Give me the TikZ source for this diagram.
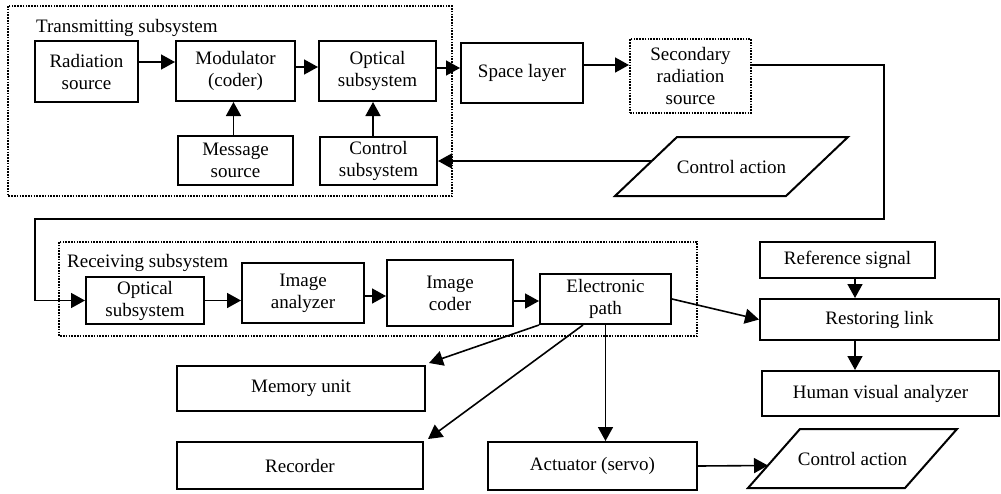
\documentclass[tikz,border=0pt]{standalone}
\usepackage{fontspec}
\setmainfont{Liberation Serif}
\usetikzlibrary{arrows.meta}
\begin{document}
\begin{tikzpicture}[x=1pt,y=-1pt,
  every node/.style={font=\fontsize{19}{22}\selectfont},
  blk/.style={draw, line width=2pt, align=center, inner sep=0pt},
  dotblk/.style={blk, dash pattern=on 1.6pt off 1.2pt},
  dotbox/.style={line width=2pt, dash pattern=on 1.6pt off 1.2pt},
  arr/.style={line width=1.6pt, -{Triangle[length=14pt,width=15pt]}},
  lbl/.style={anchor=west, inner sep=0pt}]
\useasboundingbox (0,0) rectangle (1001,493);

% group frames
\draw[dotbox] (8,6) rectangle (452,196);
\draw[dotbox] (59,242) rectangle (697,336);
\node[lbl] (txlabel) at (36,28) {Transmitting subsystem};
\node[lbl] (rxlabel) at (67,262.5) {Receiving subsystem};

% transmitting subsystem
\node[blk, minimum width=103pt, minimum height=61pt] (rad) at (86.5,71.5) {Radiation\\source};
\node[blk, minimum width=119pt, minimum height=60pt] (mod) at (235.5,71) {Modulator\\(coder)};
\node[blk, minimum width=117pt, minimum height=60pt] (opt) at (377.5,71) {Optical\\subsystem};
\node[blk, minimum width=115pt, minimum height=49pt] (msg) at (235.5,160.5) {Message\\source};
\node[blk, minimum width=117pt, minimum height=48pt] (ctl) at (378.5,161) {Control\\subsystem};
\node[blk, minimum width=122pt, minimum height=60pt] (space) at (522,73) {Space layer};
\node[dotblk, minimum width=121pt, minimum height=74pt] (sec) at (690.5,76) {Secondary\\radiation\\source};

% control action 1 (parallelogram)
\node[inner sep=0pt] (ca1) at (731.5,166.5) {Control action};
\draw[line width=2pt, line join=miter] (615,196) -- (786,196) -- (848,137) -- (677,137) -- cycle;
\coordinate (ca1in) at (652,161);

% receiving subsystem
\node[blk, minimum width=118pt, minimum height=47pt] (rxopt) at (145,300.5) {Optical\\subsystem};
\node[blk, minimum width=122pt, minimum height=60pt] (ana) at (303,293) {Image\\analyzer};
\node[blk, minimum width=126pt, minimum height=66pt] (coder) at (450,293) {Image\\coder};
\node[blk, minimum width=131pt, minimum height=50pt] (elec) at (605.5,299) {Electronic\\path};

% right column
\node[blk, minimum width=175pt, minimum height=36pt] (ref) at (847.5,260) {Reference signal};
\node[blk, minimum width=239pt, minimum height=41pt] (rest) at (879.5,319.5) {Restoring link};
\node[blk, minimum width=237pt, minimum height=45pt] (hva) at (880.5,393.5) {Human visual analyzer};

% bottom outputs
\node[blk, minimum width=248pt, minimum height=45pt] (mem) at (301,388.5) {Memory unit};
\node[blk, minimum width=246pt, minimum height=47pt] (rec) at (300,465.5) {Recorder};
\node[blk, minimum width=209pt, minimum height=48pt] (act) at (592.5,466) {Actuator (servo)};

% control action 2 (parallelogram)
\node[inner sep=0pt] (ca2) at (852.5,458.5) {Control action};
\draw[line width=2pt, line join=miter] (748,488) -- (905,488) -- (957,429) -- (800,429) -- cycle;
\coordinate (ca2in) at (768,465.5);

% bend points of the long feedback line
\coordinate (bendA) at (884,219);
\coordinate (bendB) at (35,219);

% transmitting connectors
\draw[arr] ([yshift=9.5pt]rad.east) -- ([yshift=9.5pt]rad.east -| mod.west);
\draw[arr] ([yshift=4pt]mod.east) -- ([yshift=4pt]mod.east -| opt.west);
\draw[arr] ([yshift=3pt]opt.east) -- ([yshift=3pt]opt.east -| space.west);
\draw[arr] ([yshift=8pt]space.east) -- ([yshift=8pt]space.east -| sec.west);
\draw[arr] ([xshift=-2pt]msg.north) -- ([xshift=-2pt]msg.north |- mod.south);
\draw[arr] ([xshift=-5.5pt]ctl.north) -- ([xshift=-5.5pt]ctl.north |- opt.south);
\draw[arr] (ca1in) -- (ctl.east);

% long feedback line into receiver
\draw[arr] ([yshift=11pt]sec.east) -| (bendA) -- (bendB) |- (rxopt.west);

% receiving connectors
\draw[arr] (rxopt.east) -- (rxopt.east -| ana.west);
\draw[arr] ([yshift=-3pt]ana.east) -- ([yshift=-3pt]ana.east -| coder.west);
\draw[arr] ([yshift=-8pt]coder.east) -- ([yshift=-8pt]coder.east -| elec.west);
\draw[arr] (elec.east) -- (rest.west);
\draw[arr] ([xshift=7.5pt]ref.south) -- ([xshift=7.5pt]ref.south |- rest.north);
\draw[arr] ([xshift=-24.5pt]rest.south) -- ([xshift=-24.5pt]rest.south |- hva.north);

% outputs
\draw[arr] (elec.south west) -- ([shift={(3pt,2pt)}]mem.north east);
\draw[arr] ([xshift=-22.5pt]elec.south) -- ([shift={(4pt,2pt)}]rec.north east);
\draw[arr] (elec.south) -- (elec.south |- act.north);
\draw[arr] (act.east) -- (ca2in);
\end{tikzpicture}
\end{document}
